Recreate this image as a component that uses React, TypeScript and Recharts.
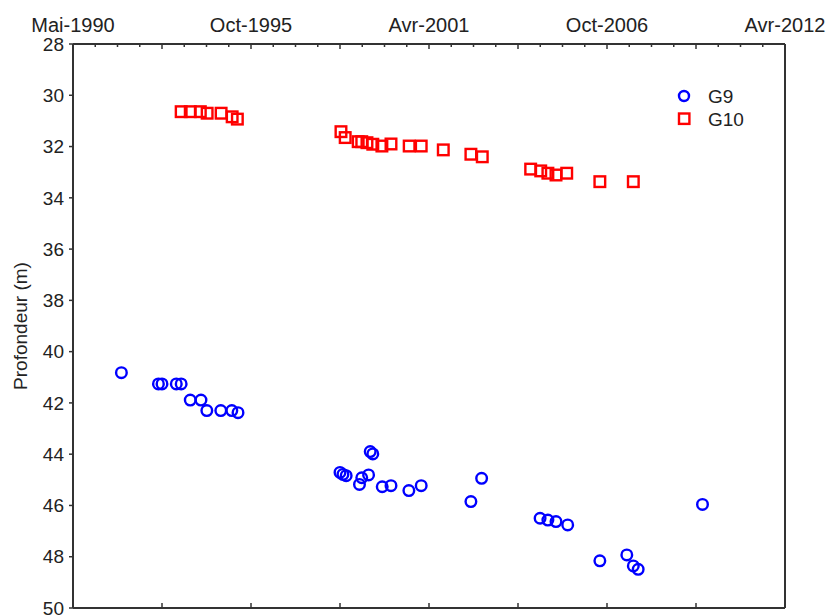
import { ReferenceLine, Scatter, ScatterChart, XAxis, YAxis } from "recharts";

// dates as decimal years, depths in metres
const g9Dates = [
  1991.82, 1992.96, 1993.07, 1993.51, 1993.66, 1993.94, 1994.27, 1994.45, 1994.88, 1995.22, 1995.41,
  1998.55, 1998.64, 1998.74, 1999.15, 1999.22, 1999.43, 1999.48, 1999.56, 1999.85, 2000.12, 2000.67,
  2001.05, 2002.58, 2002.91, 2004.71, 2004.95, 2005.2, 2005.56, 2006.55, 2007.38, 2007.58, 2007.73,
  2009.71,
];
const g9Depths = [
  40.82, 41.26, 41.26, 41.26, 41.26, 41.89, 41.89, 42.3, 42.3, 42.3, 42.38,
  44.71, 44.79, 44.84, 45.18, 44.92, 44.81, 43.9, 43.99, 45.27, 45.23, 45.42,
  45.23, 45.85, 44.94, 46.5, 46.57, 46.63, 46.76, 48.16, 47.93, 48.36, 48.49,
  45.96,
];

const g10Dates = [
  1993.66, 1993.94, 1994.25, 1994.46, 1994.89, 1995.23, 1995.39,
  1998.58, 1998.71, 1999.11, 1999.22, 1999.38, 1999.56, 1999.84, 2000.12, 2000.68, 2001.05,
  2001.73, 2002.58, 2002.93, 2004.42, 2004.73, 2004.95, 2005.2, 2005.53, 2006.55, 2007.58,
];
const g10Depths = [
  30.64, 30.64, 30.64, 30.7, 30.7, 30.84, 30.93,
  31.42, 31.65, 31.81, 31.81, 31.85, 31.91, 31.98, 31.9, 31.98, 31.98,
  32.13, 32.3, 32.4, 32.88, 32.95, 33.04, 33.11, 33.04, 33.37, 33.37,
];

const dateTicks = [1990.33, 1995.81, 2001.29, 2006.77, 2012.25];
const dateLabels = ["Mai-1990", "Oct-1995", "Avr-2001", "Oct-2006", "Avr-2012"];
const depthTicks = [28, 30, 32, 34, 36, 38, 40, 42, 44, 46, 48, 50];

const g9Data = g9Dates.map((t, i) => ({ t, d: g9Depths[i] }));
const g10Data = g10Dates.map((t, i) => ({ t, d: g10Depths[i] }));

// 8 sub-divisions between labelled dates (4 minor per major)
const allTicks: number[] = [];
dateTicks.forEach((v, i) => {
  if (i === dateTicks.length - 1) {
    allTicks.push(v);
    return;
  }
  const step = (dateTicks[i + 1] - v) / 8;
  for (let k = 0; k < 8; k++) allTicks.push(+(v + k * step).toFixed(4));
});
const majorTicks = allTicks.filter((_, i) => i % 4 === 0);

const FONT = "'Liberation Sans', Arial, sans-serif";
const INK = "#222";
const AXIS = "#333";
const BLUE = "#0000ff";
const RED = "#ff0000";

const TopTick = (props: any) => {
  const { x, y, index } = props;
  const len = index % 4 === 0 ? 5 : 3;
  const labelIdx = index % 8 === 0 ? index / 8 : -1;
  return (
    <g>
      <line x1={x} x2={x} y1={y} y2={y + len} stroke={AXIS} strokeWidth={1.5} />
      {labelIdx >= 0 && (
        <text x={x} y={y - 12} textAnchor="middle" fontFamily={FONT} fontSize={20} fill={INK}>
          {dateLabels[labelIdx]}
        </text>
      )}
    </g>
  );
};

const BottomTick = (props: any) => {
  const { x, y } = props;
  return <line x1={x} x2={x} y1={y} y2={y - 5} stroke={AXIS} strokeWidth={1.5} />;
};

const CircleDot = (props: any) => {
  const { cx, cy } = props;
  return <circle cx={cx} cy={cy} r={5.3} fill="none" stroke={BLUE} strokeWidth={2.4} />;
};

const SquareDot = (props: any) => {
  const { cx, cy } = props;
  return <rect x={cx - 5.3} y={cy - 5.3} width={10.6} height={10.6} fill="none" stroke={RED} strokeWidth={2.4} />;
};

const LegendBox = () => (
  <svg width={90} height={50} style={{ position: "absolute", left: 675, top: 85 }}>
    <circle cx={9} cy={11} r={5} fill="none" stroke={BLUE} strokeWidth={2.4} />
    <text x={33} y={18} fontFamily={FONT} fontSize={19} fill={INK}>
      G9
    </text>
    <rect x={4} y={28.5} width={10.4} height={10.4} fill="none" stroke={RED} strokeWidth={2.4} />
    <text x={33} y={41} fontFamily={FONT} fontSize={19} fill={INK}>
      G10
    </text>
  </svg>
);

const YTitle = (props: any) => {
  const { viewBox } = props;
  const cx = viewBox.x + 20;
  const cy = viewBox.y + viewBox.height / 2;
  return (
    <text
      transform={`translate(${cx},${cy}) rotate(-90)`}
      textAnchor="middle"
      dominantBaseline="central"
      fontFamily={FONT}
      fontSize={19}
      fill={INK}
    >
      Profondeur (m)
    </text>
  );
};

export default function App() {
  return (
    <div style={{ position: "absolute", left: 0, top: 0, width: 827, height: 615, background: "#fff" }}>
      <ScatterChart width={827} height={615} margin={{ top: 0, right: 42, bottom: 0, left: 0 }}>
        <XAxis
          xAxisId="top"
          orientation="top"
          type="number"
          dataKey="t"
          domain={[dateTicks[0], dateTicks[dateTicks.length - 1]]}
          ticks={allTicks}
          interval={0}
          height={44}
          tickSize={0}
          tickMargin={0}
          tick={<TopTick />}
          axisLine={{ stroke: AXIS, strokeWidth: 2 }}
        />
        <XAxis
          xAxisId="bottom"
          orientation="bottom"
          type="number"
          dataKey="t"
          domain={[dateTicks[0], dateTicks[dateTicks.length - 1]]}
          ticks={majorTicks}
          interval={0}
          height={7}
          tickSize={0}
          tickMargin={0}
          tick={<BottomTick />}
          axisLine={{ stroke: AXIS, strokeWidth: 2 }}
        />
        <YAxis
          type="number"
          dataKey="d"
          domain={[28, 50]}
          reversed
          ticks={depthTicks}
          interval={0}
          width={73}
          tickSize={4}
          tickMargin={5}
          tick={{ fontFamily: FONT, fontSize: 19, fill: INK }}
          tickLine={{ stroke: AXIS, strokeWidth: 1.5 }}
          axisLine={{ stroke: AXIS, strokeWidth: 2 }}
          label={<YTitle />}
        />
        <ReferenceLine xAxisId="top" x={dateTicks[dateTicks.length - 1]} stroke={AXIS} strokeWidth={2} />
        <Scatter name="G9" xAxisId="top" data={g9Data} shape={<CircleDot />} isAnimationActive={false} />
        <Scatter name="G10" xAxisId="bottom" data={g10Data} shape={<SquareDot />} isAnimationActive={false} />
      </ScatterChart>
      <LegendBox />
    </div>
  );
}
